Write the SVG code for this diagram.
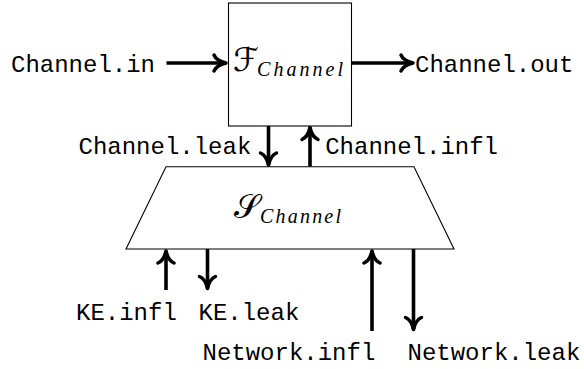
<svg xmlns="http://www.w3.org/2000/svg" width="584" height="369" viewBox="0 0 584 369">
<style>
.shape{fill:#fff;stroke:#000;stroke-width:1.1}
.tt{font-family:"Liberation Mono","DejaVu Sans Mono",monospace;font-size:24px;fill:#000}
.cal{font-family:"DejaVu Serif","DejaVu Sans",serif;font-size:33px;fill:#000}
.sub{font-family:"Liberation Serif","DejaVu Serif",serif;font-style:italic;font-size:20px;fill:#000}
.arr{fill:none;stroke:#000;stroke-width:3.6;marker-end:url(#head)}
</style>
<defs>
<marker id="head" markerUnits="userSpaceOnUse" viewBox="-14 -11 18 22" refX="0" refY="0" markerWidth="18" markerHeight="22" orient="auto" overflow="visible">
<path d="M-12,-8 C-10,-3.2 -3.5,-0.8 0,0 C-3.5,0.8 -10,3.2 -12,8" fill="none" stroke="#000" stroke-width="3.5" stroke-linecap="round" stroke-linejoin="round"/>
</marker>
</defs>
<rect width="584" height="369" fill="#fff"/>
<g id="connectors">
<path class="arr" d="M166.5,63 H226"/>
<path class="arr" d="M352,63 H413"/>
<path class="arr" d="M268.5,126 V165"/>
<path class="arr" d="M310,166.7 V127.5"/>
<path class="arr" d="M166,290 V251"/>
<path class="arr" d="M207.5,249 V288.5"/>
<path class="arr" d="M372,331 V251"/>
<path class="arr" d="M413.5,249 V329.5"/>
</g>
<g id="F_Channel">
<rect class="shape" x="228.5" y="3" width="123" height="123"/>
<text class="cal" x="233" y="71">ℱ</text>
<text class="sub" x="257" y="76" textLength="86" lengthAdjust="spacing">Channel</text>
</g>
<g id="S_Channel">
<polygon class="shape" points="166,166.7 414,166.7 454,249 126,249"/>
<text class="cal" x="234" y="218">𝒮</text>
<text class="sub" x="260" y="223" textLength="81" lengthAdjust="spacing">Channel</text>
</g>
<g id="Channel_in"><text class="tt" x="11" y="72">Channel.in</text></g>
<g id="Channel_out"><text class="tt" x="415" y="72">Channel.out</text></g>
<g id="Channel_leak"><text class="tt" x="78.5" y="154">Channel.leak</text></g>
<g id="Channel_infl"><text class="tt" x="325.2" y="154">Channel.infl</text></g>
<g id="KE_infl"><text class="tt" x="76" y="319.5">KE.infl</text></g>
<g id="KE_leak"><text class="tt" x="198.5" y="319.5">KE.leak</text></g>
<g id="Network_infl"><text class="tt" x="202.5" y="360">Network.infl</text></g>
<g id="Network_leak"><text class="tt" x="407.5" y="360">Network.leak</text></g>
</svg>
